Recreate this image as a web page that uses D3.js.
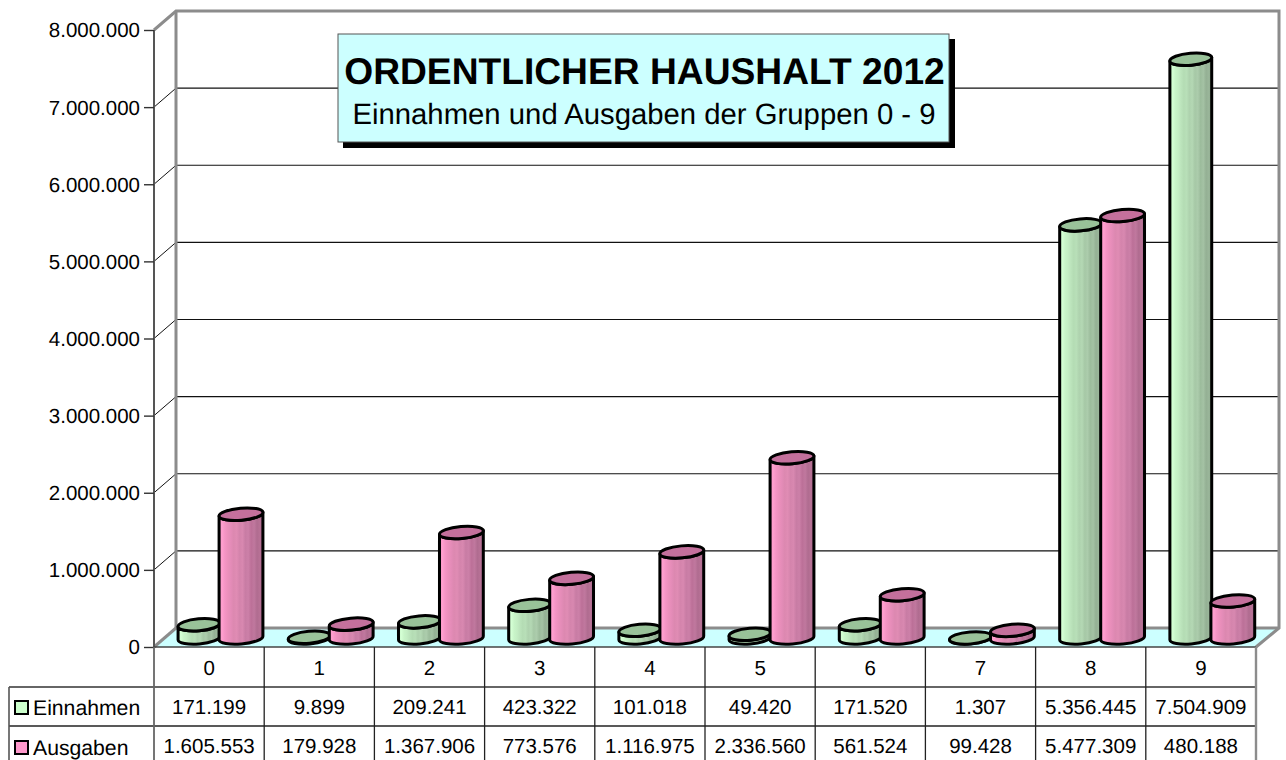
<!DOCTYPE html>
<html><head><meta charset="utf-8">
<style>html,body{margin:0;padding:0;background:#fff}svg{display:block}text{font-family:"Liberation Sans",Arial,sans-serif;fill:#000;text-rendering:geometricPrecision}</style>
<script src="https://cdn.jsdelivr.net/npm/d3@7"></script></head><body><div id="c"></div>
<script>
const categories=["0","1","2","3","4","5","6","7","8","9"];
const seriesNames=["Einnahmen","Ausgaben"];
const einnahmen=[171199,9899,209241,423322,101018,49420,171520,1307,5356445,7504909];
const ausgaben=[1605553,179928,1367906,773576,1116975,2336560,561524,99428,5477309,480188];
const yTicks=[0,1000000,2000000,3000000,4000000,5000000,6000000,7000000,8000000];
const titleMain="ORDENTLICHER HAUSHALT 2012";
const titleSub="Einnahmen und Ausgaben der Gruppen 0 - 9";

const W=1286,H=760,X0=154,X1=1256,YB=647,YT=30,DX=22,DY=-19;
const fmt=d3.formatLocale({decimal:",",thousands:".",grouping:[3],currency:["","€"]}).format(",d");
const svg=d3.select("#c").append("svg").attr("width",W).attr("height",H).attr("viewBox",`0 0 ${W} ${H}`);
const y=d3.scaleLinear().domain([0,8000000]).range([YB,YT]);
const x=d3.scaleBand().domain(categories).range([X0,X1]);
const inner=d3.scaleOrdinal().domain(seriesNames).range([45,87]);
const radius=d3.scaleOrdinal().domain(seriesNames).range([21,22]);

const colors={Einnahmen:{stops:["#c8f4c8","#d4ffd4","#c8f4c8","#c4eec4","#bce4bc","#b4dcb4","#b8dfb8","#aed2ae","#b4d8b4","#a6c8a6","#acccac","#9cbc9c","#a4c2a4","#94b094","#9ab69a","#88a488"],top:"#99c299",sw:"#ccffcc"},
              Ausgaben:{stops:["#f494c4","#ff9fcf","#f494c4","#ec90bc","#e48cb8","#dc88b0","#e08cb4","#d484ac","#d888b0","#c87ca4","#cc80a8","#bc7098","#c0789e","#b06c90","#b87296","#a4668a"],top:"#c4709c",sw:"#ff99cc"}};
const defs=svg.append("defs");
seriesNames.forEach((s,i)=>{
  const g=defs.append("linearGradient").attr("id","g"+i);
  colors[s].stops.forEach((c,k,a)=>g.append("stop").attr("offset",k/(a.length-1)).attr("stop-color",c));
});

svg.append("path").attr("d",`M${X0},${YB}L${X0+DX},${YB+DY}L${X1+DX+1},${YB+DY}L${X1},${YB}Z`).attr("fill","#ccffff");
const grid=svg.append("g");
yTicks.slice(1,-1).forEach(v=>{
  grid.append("line").attr("x1",X0+DX).attr("x2",X1+DX).attr("y1",y(v)+DY).attr("y2",y(v)+DY).attr("stroke","#111").attr("stroke-width",1.2);
  grid.append("line").attr("x1",X0).attr("x2",X0+DX).attr("y1",y(v)).attr("y2",y(v)+DY).attr("stroke","#111").attr("stroke-width",1);
});
const gr="#8c8c8c";
svg.append("path").attr("d",`M${X0},${y(8000000)}L${X0+DX},${y(8000000)+DY}L${X1+DX+1},${y(8000000)+DY}L${X1+DX+1},${YB+DY}L${X1},${YB}`).attr("fill","none").attr("stroke",gr).attr("stroke-width",3);
svg.append("line").attr("x1",X0+DX).attr("x2",X0+DX).attr("y1",y(8000000)+DY).attr("y2",YB+DY).attr("stroke",gr).attr("stroke-width",3);
svg.append("line").attr("x1",X0+DX).attr("x2",X1+DX).attr("y1",YB+DY).attr("y2",YB+DY).attr("stroke",gr).attr("stroke-width",3);
svg.append("line").attr("x1",X0).attr("x2",X0+DX).attr("y1",YB).attr("y2",YB+DY).attr("stroke",gr).attr("stroke-width",3);

const axis=svg.append("g").attr("transform",`translate(${X0},0)`)
  .call(d3.axisLeft(y).tickValues(yTicks).tickFormat(fmt).tickSize(10).tickPadding(4));
axis.selectAll("text").attr("font-size",20.5).attr("dy","0.34em").style("font-family",'"Liberation Sans"');
axis.selectAll(".tick line").attr("stroke","#333").attr("stroke-width",1.4);
axis.select(".domain").attr("stroke","#555").attr("stroke-width",2).attr("d",`M0,${YT}V${YB}`);

const RY=6,TILT=5,BASE=9;
const t=TILT*Math.PI/180;
const rows=categories.map((c,i)=>({c,Einnahmen:einnahmen[i],Ausgaben:ausgaben[i]}));
rows.forEach(r=>{
  seriesNames.forEach((s,i)=>{
    const RX=radius(s),cs=RX*Math.cos(t),sn=RX*Math.sin(t);
    const cx=x(r.c)+inner(s),by=y(0)-BASE,h=(y(0)-y(r[s])),ty=by-h;
    const g=svg.append("g");
    g.append("path").attr("d",
      `M${cx-cs},${ty+sn}L${cx-cs},${by+sn}A${RX},${RY} ${-TILT} 0 0 ${cx+cs},${by-sn}L${cx+cs},${ty-sn}A${RX},${RY} ${-TILT} 0 1 ${cx-cs},${ty+sn}Z`)
      .attr("fill",`url(#g${i})`).attr("stroke","#000").attr("stroke-width",3).attr("stroke-linejoin","round");
    g.append("ellipse").attr("cx",0).attr("cy",0).attr("rx",RX).attr("ry",RY)
      .attr("transform",`translate(${cx},${ty}) rotate(${-TILT})`)
      .attr("fill",colors[s].top).attr("stroke","#000").attr("stroke-width",3);
  });
});

const R1=687,R2=726,TB=760,TL=9;
const tb=svg.append("g");
const ln=(a,b,c,d,col,w)=>tb.append("line").attr("x1",a).attr("y1",b).attr("x2",c).attr("y2",d).attr("stroke",col).attr("stroke-width",w);
ln(X0,YB,X1,YB,"#444",1.5);
ln(TL,R1,X1,R1,"#666",2);
ln(TL,R2,X1,R2,"#222",1.4);
ln(TL,R1,TL,TB,"#555",1.6);
ln(X0,YB,X0,TB,"#666",1.8);
categories.forEach((c,i)=>{
  const xr=x(c)+x.bandwidth();
  if(i<categories.length-1) ln(xr,YB,xr,TB,"#222",1.3); else ln(xr,YB,xr,TB,gr,2.4);
});
const cellText=(tx,ty,s,anchor,fs)=>tb.append("text").attr("x",tx).attr("y",ty).attr("text-anchor",anchor||"middle").attr("font-size",fs||20.5).text(s);
categories.forEach((c,i)=>{
  const cx=x(c)+x.bandwidth()/2;
  cellText(cx,675,c);
  cellText(cx,714,fmt(einnahmen[i]));
  cellText(cx,753,fmt(ausgaben[i]));
});
seriesNames.forEach((s,i)=>{
  const ry=[701,741][i];
  tb.append("rect").attr("x",15).attr("y",ry).attr("width",13).attr("height",13).attr("fill",colors[s].sw).attr("stroke","#000").attr("stroke-width",2);
  cellText(33,[715,755][i],s,"start",21.2);
});

const box=svg.append("g");
box.append("rect").attr("x",343).attr("y",39).attr("width",612).attr("height",109).attr("fill","#000");
box.append("rect").attr("x",338).attr("y",34).attr("width",611).attr("height",108).attr("fill","#ccffff").attr("stroke","#555").attr("stroke-width",1);
box.append("text").attr("x",644.5).attr("y",84).attr("text-anchor","middle").attr("font-size",37.2).attr("font-weight","bold").text(titleMain);
box.append("text").attr("x",644).attr("y",124).attr("text-anchor","middle").attr("font-size",29.3).text(titleSub);
</script></body></html>
